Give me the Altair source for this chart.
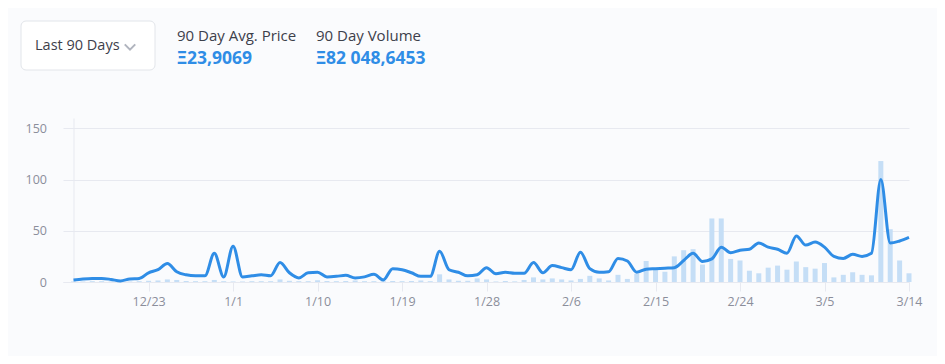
import altair as alt
import pandas as pd

# ---- data ----
dates = pd.date_range("2018-12-15", periods=90, freq="D")

price = [2, 3, 3.5, 3.5, 2.5, 1, 3, 3.5, 9, 12,
         18, 10, 7, 6, 6, 28, 5, 35, 5, 6,
         7, 6, 19, 9, 4, 9, 9.5, 5, 5.5, 6.5,
         4, 5, 7.5, 2, 13, 12, 9, 5.5, 5.5, 30,
         12, 9.5, 6, 7, 14, 8, 9.5, 8.5, 8.5, 19,
         9, 16, 14, 12, 29, 13, 9.5, 10, 23, 20.5,
         9.5, 12.5, 13, 13.5, 14, 21, 28, 20, 22.5, 34,
         28.5, 31, 32, 38, 34, 32, 28, 45, 36, 39,
         34, 25, 23, 27, 25, 28, 100, 38, 40, 43.5]

volume = [0.5, 0.5, 0.8, 0.8, 0.5, 0.3, 0.5, 0.8, 1.2, 1.5,
          2.5, 2, 1, 0.8, 0.8, 2, 0.8, 0.5, 0.5, 0.8,
          0.8, 0.8, 2.5, 1.2, 0.8, 0.8, 1.8, 1, 0.8, 1,
          1.5, 0.8, 0.8, 0.8, 1, 0.8, 1, 1.5, 0.8, 7.5,
          2.5, 1.2, 1.2, 3.5, 2.5, 0.5, 1, 0.6, 2, 4.5,
          2.5, 3.5, 2.5, 1.5, 3, 6, 3.5, 1.5, 7, 3,
          8, 20.5, 12, 10, 25, 31, 32, 17, 62, 62,
          22.5, 21, 11, 8.5, 14, 16, 12, 20, 14.5, 13,
          18.5, 4.5, 7, 9.5, 7, 6.5, 118, 51.5, 21, 8.5]

tick_dates = [(2018, 12, 23), (2019, 1, 1), (2019, 1, 10), (2019, 1, 19), (2019, 1, 28),
              (2019, 2, 6), (2019, 2, 15), (2019, 2, 24), (2019, 3, 5), (2019, 3, 14)]
y_ticks = [0, 50, 100, 150]

period_label = "Last 90 Days"
stat_titles = ["90 Day Avg. Price", "90 Day Volume"]
stat_values = ["Ξ23,9069", "Ξ82 048,6453"]

df = pd.DataFrame({"date": dates, "price": price, "volume": volume})

FONT = "Open Sans"
GRID = "#e7e9f0"
LABEL = "#8b8e9b"
BLUE = "#2f8de6"
BAR = "#c5def6"
TEXT = "#3d404b"

x_scale = alt.Scale(domain=[alt.DateTime(year=2018, month=12, date=13, hours=21, minutes=10),
                            alt.DateTime(year=2019, month=3, date=14)], padding=0)
y_scale = alt.Scale(domain=[0, 160], nice=False)

x_axis = alt.Axis(values=[alt.DateTime(year=y, month=m, date=d) for y, m, d in tick_dates],
                  format="%-m/%-d", title=None, grid=False, labelFlush=False,
                  labelOverlap=False,
                  domainColor=GRID, tickColor=GRID, tickSize=9,
                  labelColor=LABEL, labelFont=FONT, labelFontSize=12.5, labelPadding=4)
y_axis = alt.Axis(values=y_ticks, title=None, grid=True, gridColor=GRID,
                  domain=True, domainColor=GRID, ticks=False, offset=-10.5,
                  labelColor=LABEL, labelFont=FONT, labelFontSize=12.5, labelPadding=27)

base = alt.Chart(df)

bars = base.mark_bar(color=BAR, width=5).encode(
    x=alt.X("date:T", scale=x_scale, axis=x_axis),
    y=alt.Y("volume:Q", scale=y_scale, axis=y_axis),
)

line = base.mark_line(color=BLUE, strokeWidth=3, interpolate="monotone").encode(
    x=alt.X("date:T", scale=x_scale),
    y=alt.Y("price:Q", scale=y_scale),
)

one = pd.DataFrame({"k": [0]})

dropdown = alt.Chart(one).mark_rect(fill="#ffffff", stroke="#e2e5ea", strokeWidth=1,
                                    cornerRadius=5).encode(
    x=alt.value(-42), x2=alt.value(92), y=alt.value(-97), y2=alt.value(-48))

period_text = alt.Chart(one).mark_text(text=period_label, align="left", baseline="middle",
                                       font=FONT, fontSize=14.5, color=TEXT).encode(
    x=alt.value(-28), y=alt.value(-72))

chevron = alt.Chart(one).mark_point(shape="M-1,-0.5L0,0.5L1,-0.5", filled=False,
                                    stroke="#8f95a3", strokeWidth=2, size=110).encode(
    x=alt.value(67), y=alt.value(-71))

t1 = alt.Chart(one).mark_text(text=stat_titles[0], align="left", baseline="middle",
                              font=FONT, fontSize=15, color=TEXT).encode(
    x=alt.value(114), y=alt.value(-82))
v1 = alt.Chart(one).mark_text(text=stat_values[0], align="left", baseline="middle",
                              font=FONT, fontSize=17.5, fontWeight="bold", color=BLUE).encode(
    x=alt.value(114), y=alt.value(-59))
t2 = alt.Chart(one).mark_text(text=stat_titles[1], align="left", baseline="middle",
                              font=FONT, fontSize=15, color=TEXT).encode(
    x=alt.value(253), y=alt.value(-82))
v2 = alt.Chart(one).mark_text(text=stat_values[1], align="left", baseline="middle",
                              font=FONT, fontSize=17.5, fontWeight="bold", color=BLUE).encode(
    x=alt.value(253), y=alt.value(-59))

chart = alt.layer(bars, line, dropdown, period_text, chevron, t1, v1, t2, v2).properties(
    width=846, height=164,
    padding={"left": 55, "top": 110, "right": 28, "bottom": 74},
    autosize=alt.AutoSizeParams(type="none"),
    background="#fafbfd",
).configure_view(stroke=None)

chart.save("out.html", embed_options={"renderer": "svg", "actions": False})
